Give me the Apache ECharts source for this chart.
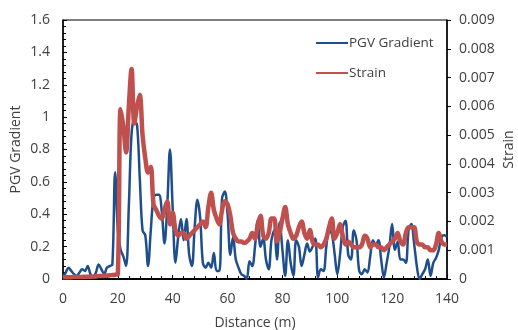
<!DOCTYPE html>
<html>
<head>
<meta charset="utf-8">
<script src="https://cdn.jsdelivr.net/npm/echarts@6/dist/echarts.min.js"></script>
<style>
  html, body { margin: 0; padding: 0; background: #fff; }
  #chart { width: 518px; height: 330px; }
</style>
</head>
<body>
<div id="chart"></div>
<script>
// PGV gradient, one reading per metre (0..140 m)
const pgvGradient = [
  0.01, 0.04, 0.07, 0.05, 0.03, 0.02, 0.04, 0.06, 0.05, 0.08,
  0.03, 0.01, 0.04, 0.09, 0.06, 0.03, 0.07, 0.08, 0.09, 0.66,
  0.30, 0.18, 0.14, 0.08, 0.45, 0.90, 0.98, 0.95, 0.62, 0.30,
  0.27, 0.08, 0.30, 0.50, 0.52, 0.52, 0.42, 0.22, 0.45, 0.80,
  0.43, 0.10, 0.26, 0.37, 0.24, 0.37, 0.15, 0.08, 0.32, 0.49,
  0.38, 0.10, 0.07, 0.10, 0.07, 0.16, 0.05, 0.05, 0.50, 0.54,
  0.40, 0.15, 0.26, 0.12, 0.07, 0.03, 0.02, 0.00, 0.11, 0.08,
  0.20, 0.36, 0.20, 0.25, 0.12, 0.06, 0.24, 0.30, 0.12, 0.35,
  0.18, 0.02, 0.24, 0.10, 0.02, 0.24, 0.20, 0.08, 0.15, 0.22,
  0.17, 0.20, 0.25, 0.01, 0.06, 0.05, 0.20, 0.30, 0.28, 0.16,
  0.03, 0.15, 0.32, 0.36, 0.15, 0.12, 0.30, 0.24, 0.05, 0.03,
  0.06, 0.04, 0.14, 0.24, 0.21, 0.24, 0.12, 0.01, 0.10, 0.20,
  0.34, 0.18, 0.23, 0.12, 0.12, 0.10, 0.30, 0.34, 0.22, 0.08,
  0.00, 0.03, 0.06, 0.12, 0.02, 0.10, 0.13, 0.18, 0.26, 0.27,
  0.26
];

// strain, same spacing
const strain = [
  0.00006, 0.00006, 0.00006, 0.00006, 0.00007, 0.00007, 0.00007, 0.00007, 0.00008, 0.00008,
  0.00008, 0.00009, 0.00009, 0.00010, 0.00010, 0.00011, 0.00012, 0.00013, 0.00014, 0.00015,
  0.00018, 0.0059, 0.0053, 0.0044, 0.0060, 0.0073, 0.0054, 0.0060, 0.0064, 0.0050,
  0.0042, 0.0037, 0.0039, 0.0026, 0.0024, 0.0022, 0.0021, 0.0024, 0.0027, 0.0019,
  0.0023, 0.0017, 0.0015, 0.0016, 0.0016, 0.0014, 0.0015, 0.0016, 0.0017, 0.0018,
  0.0019, 0.0020, 0.0018, 0.0025, 0.0030, 0.0024, 0.0021, 0.0019, 0.0024, 0.0027,
  0.0026, 0.0022, 0.0016, 0.0014, 0.0013, 0.0013, 0.00125, 0.0013, 0.0014, 0.0016,
  0.0014, 0.0019, 0.0022, 0.0015, 0.0014, 0.0016, 0.0021, 0.0021, 0.0013, 0.0016,
  0.0021, 0.0025, 0.0019, 0.0016, 0.0014, 0.0015, 0.0018, 0.0020, 0.0016, 0.0014,
  0.0017, 0.0013, 0.0012, 0.0012, 0.0011, 0.0012, 0.0014, 0.0018, 0.0021, 0.0014,
  0.0016, 0.0019, 0.0015, 0.0012, 0.0013, 0.0012, 0.0011, 0.0011, 0.0011, 0.0012,
  0.0015, 0.0014, 0.0011, 0.0012, 0.0012, 0.0011, 0.0011, 0.0010, 0.0011, 0.0012,
  0.0013, 0.0014, 0.0016, 0.0013, 0.0012, 0.0016, 0.0018, 0.0018, 0.0018, 0.0013,
  0.0012, 0.0012, 0.0011, 0.0011, 0.0010, 0.0010, 0.0012, 0.0016, 0.0013, 0.0012,
  0.0012
];

const distanceStep = 1; // metres between readings

const labelFont = { fontFamily: 'Open Sans', fontSize: 14, color: '#404040' };

const chart = echarts.init(document.getElementById('chart'));

chart.setOption({
  animation: false,
  grid: {
    left: 63, right: 71, top: 20, bottom: 51,
    outerBoundsMode: 'none',
    show: true, borderColor: '#000', borderWidth: 1
  },
  legend: {
    top: 31, left: 310,
    orient: 'vertical',
    itemWidth: 32, itemHeight: 14, itemGap: 16,
    itemStyle: { opacity: 0 }, // line only, no marker
    textStyle: Object.assign({}, labelFont, { fontSize: 13.5, padding: [0, 0, 0, -4] }),
    data: ['PGV Gradient', 'Strain']
  },
  xAxis: {
    type: 'value',
    min: 0, max: 140, interval: 20,
    name: 'Distance (m)',
    nameLocation: 'middle',
    nameGap: 37,
    nameTextStyle: labelFont,
    axisLine: { lineStyle: { color: '#000', width: 2 } },
    axisTick: { inside: true, length: 4, lineStyle: { color: '#000' } },
    minorTick: { show: true, splitNumber: 5, length: 3, lineStyle: { color: '#000' } },
    axisLabel: Object.assign({ margin: 13 }, labelFont),
    splitLine: { show: false }
  },
  yAxis: [
    {
      type: 'value',
      min: 0, max: 1.6, interval: 0.2,
      name: 'PGV Gradient',
      nameLocation: 'middle',
      nameGap: 40,
      nameMoveOverlap: false,
      nameTextStyle: labelFont,
      axisLine: { show: true, lineStyle: { color: '#000', width: 1.5 } },
      axisTick: { show: true, inside: true, length: 4, lineStyle: { color: '#000' } },
      minorTick: { show: true, splitNumber: 5, length: 3, lineStyle: { color: '#000' } },
      axisLabel: Object.assign({
        margin: 13,
        formatter: v => String(Math.round(v * 10) / 10)
      }, labelFont),
      splitLine: { show: false }
    },
    {
      type: 'value',
      min: 0, max: 0.009, interval: 0.001,
      position: 'right',
      name: 'Strain',
      nameLocation: 'middle',
      nameGap: 55,
      nameMoveOverlap: false,
      nameTextStyle: labelFont,
      axisLine: { show: true, lineStyle: { color: '#000', width: 1.5 } },
      axisTick: { show: true, length: 4, lineStyle: { color: '#000' } },
      axisLabel: Object.assign({
        margin: 12,
        formatter: v => v === 0 ? '0' : v.toFixed(3)
      }, labelFont),
      splitLine: { show: false }
    }
  ],
  series: [
    {
      name: 'PGV Gradient',
      type: 'line',
      yAxisIndex: 0,
      data: pgvGradient.map((v, i) => [i * distanceStep, v]),
      smooth: 0.35,
      symbol: 'none',
      lineStyle: { color: '#1F4E8C', width: 2.5 },
      itemStyle: { color: '#1F4E8C' },
      z: 2
    },
    {
      name: 'Strain',
      type: 'line',
      yAxisIndex: 1,
      data: strain.map((v, i) => [i * distanceStep, v]),
      smooth: 0.35,
      symbol: 'none',
      lineStyle: { color: '#C0504D', width: 4.5 },
      itemStyle: { color: '#C0504D' },
      z: 3
    }
  ]
});
</script>
</body>
</html>
